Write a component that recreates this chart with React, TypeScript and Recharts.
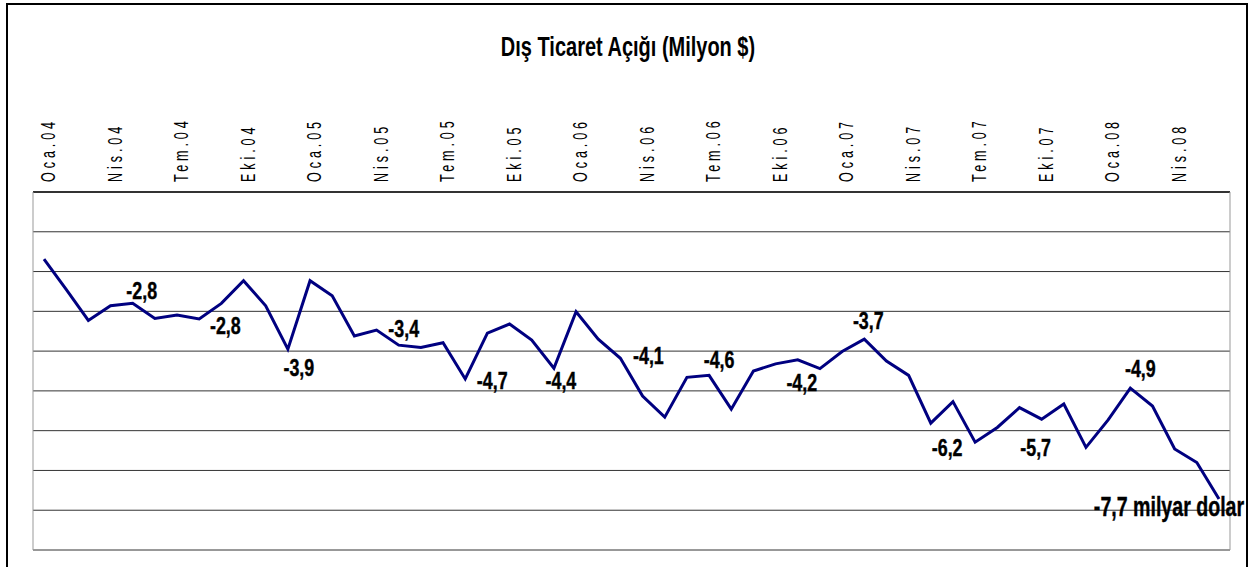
import React from 'react';
import { LineChart, Line, XAxis, YAxis, CartesianGrid } from 'recharts';

const months = ['Oca', 'Şub', 'Mar', 'Nis', 'May', 'Haz', 'Tem', 'Ağu', 'Eyl', 'Eki', 'Kas', 'Ara'];
const years = ['04', '05', '06', '07', '08'];
const categories = years.flatMap((y) => months.map((m) => `${m}.${y}`)).slice(0, 54);

// Dış ticaret açığı, milyon $
const deficit = [
  -1690, -2450, -3230, -2860, -2800, -3180, -3090, -3190, -2800, -2230, -2860, -3950,
  -2230, -2610, -3620, -3470, -3850, -3910, -3790, -4700, -3550, -3320, -3720, -4430,
  -3010, -3700, -4180, -5130, -5660, -4660, -4610, -5460, -4500, -4320, -4220, -4440,
  -4010, -3700, -4250, -4610, -5810, -5270, -6290, -5920, -5420, -5710, -5330, -6420,
  -5730, -4930, -5380, -6460, -6800, -7720,
];

const yTicks = [-9000, -8000, -7000, -6000, -5000, -4000, -3000, -2000, -1000, 0];

const labelIndex = [4, 8, 11, 16, 19, 23, 26, 30, 34, 37, 42, 45, 49, 53];
const labelText = ['-2,8', '-2,8', '-3,9', '-3,4', '-4,7', '-4,4', '-4,1', '-4,6', '-4,2', '-3,7', '-6,2', '-5,7', '-4,9', '-7,7 milyar dolar'];

// annotation placement (style)
const labelOffsets: [number, number][] = [
  [9, -4], [4, 31], [11, 27], [5, -8], [27, 10], [7, 21], [28, 6], [10, -7],
  [4, 31], [4, -10], [-28, 14], [-6, 37], [10, -11], [-50, 17],
];

const data = categories.map((c, i) => ({ name: c, value: deficit[i] }));

const FONT = '"Liberation Sans", Arial, sans-serif';

const Tick = (props: any) => {
  const { x, y, payload } = props;
  return (
    <text
      transform={`translate(${x + 11},${y}) rotate(-90) scale(0.6,1)`}
      fontFamily={FONT}
      fontSize={21}
      letterSpacing={6.5}
      fill="#000"
      textAnchor="start"
    >
      {payload.value}
    </text>
  );
};

const NoTick = () => <g />;

const Dot = (props: any) => {
  const { cx, cy, index } = props;
  const k = labelIndex.indexOf(index);
  if (k < 0 || cx == null || cy == null) return <g key={`d${index}`} />;
  const [dx, dy] = labelOffsets[k];
  const big = index === labelIndex[labelIndex.length - 1];
  return (
    <text
      key={`d${index}`}
      transform={`translate(${cx + dx},${cy + dy}) scale(${big ? 0.7 : 0.76},1)`}
      textAnchor="middle"
      fontFamily={FONT}
      fontWeight="bold"
      fontSize={big ? 28 : 23.5}
      stroke="#000"
      strokeWidth={0.4}
      fill="#000"
    >
      {labelText[k]}
    </text>
  );
};

export default function App() {
  return (
    <div
      style={{
        position: 'absolute',
        left: 0,
        top: 0,
        width: 1254,
        height: 567,
        overflow: 'hidden',
        background: '#fff',
      }}
    >
      <div
        style={{
          position: 'absolute',
          left: 6,
          top: 3,
          width: 1242,
          height: 640,
          boxSizing: 'border-box',
          border: '2px solid #000',
        }}
      />
      <div
        style={{
          position: 'absolute',
          left: 0,
          top: 30,
          width: 1256,
          textAlign: 'center',
          fontFamily: FONT,
          fontWeight: 'bold',
          fontSize: 27,
          lineHeight: '34px',
          transform: 'scaleX(0.74)',
          color: '#000',
        }}
      >
        Dış Ticaret Açığı (Milyon $)
      </div>
      <div style={{ position: 'absolute', left: 0, top: 0 }}>
        <LineChart width={1254} height={567} data={data} margin={{ top: 0, right: 23, bottom: 17, left: 32 }}>
          <CartesianGrid vertical={false} stroke="#333" strokeWidth={1} syncWithTicks />
          <XAxis
            dataKey="name"
            orientation="top"
            height={192}
            interval={2}
            tickLine={false}
            tickSize={0}
            tickMargin={10}
            axisLine={{ stroke: '#333', strokeWidth: 2 }}
            tick={<Tick />}
            padding={{ left: 11, right: 11 }}
          />
          <YAxis
            type="number"
            domain={[-9000, 0]}
            ticks={yTicks}
            interval={0}
            width={1}
            tick={<NoTick />}
            tickLine={false}
            axisLine={{ stroke: '#999' }}
          />
          <YAxis
            yAxisId="r"
            orientation="right"
            type="number"
            domain={[-9000, 0]}
            ticks={yTicks}
            interval={0}
            width={1}
            tick={<NoTick />}
            tickLine={false}
            axisLine={{ stroke: '#999' }}
          />
          <Line
            type="linear"
            dataKey="value"
            stroke="#000080"
            strokeWidth={3}
            dot={Dot}
            activeDot={false}
            isAnimationActive={false}
          />
        </LineChart>
      </div>
    </div>
  );
}
